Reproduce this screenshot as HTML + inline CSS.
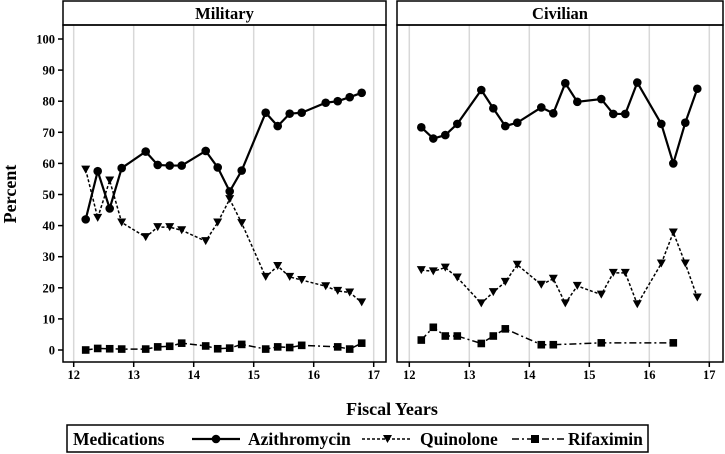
<!DOCTYPE html>
<html><head><meta charset="utf-8"><style>
body{margin:0;background:#fff}
svg{display:block;font-family:"Liberation Serif",serif;font-weight:bold}
</style></head><body>
<svg id="c" width="725" height="454"></svg>
<script>
const yTicks=[0,10,20,30,40,50,60,70,80,90,100];
const xTicks=[12,13,14,15,16,17];
const milAzX=[12.2,12.4,12.6,12.8,13.2,13.4,13.6,13.8,14.2,14.4,14.6,14.8,15.2,15.4,15.6,15.8,16.2,16.4,16.6,16.8];
const milAz=[42,57.5,45.5,58.5,63.8,59.5,59.3,59.3,64,58.7,51,57.7,76.3,72,76,76.3,79.5,80,81.3,82.7];
const milQu=[58,42.5,54.5,41,36.3,39.5,39.5,38.5,35,41,48.5,40.8,23.5,27,23.5,22.5,20.5,19,18.5,15.3];
const milRiX=[12.2,12.4,12.6,12.8,13.2,13.4,13.6,13.8,14.2,14.4,14.6,14.8,15.2,15.4,15.6,15.8,16.4,16.6,16.8];
const milRi=[0,0.5,0.4,0.3,0.3,1,1.2,2.2,1.3,0.4,0.6,1.8,0.3,1,0.8,1.5,1,0.3,2.2];
const civAz=[71.6,68,69.1,72.7,83.6,77.7,72,73.1,78,76.1,85.8,79.8,80.7,75.9,75.9,86,72.7,60,73.1,84];
const civQu=[25.7,25.3,26.5,23.3,15,18.6,21.9,27.4,21,22.9,15,20.6,17.8,24.8,24.8,14.7,27.8,37.8,27.8,16.9];
const civRiX=[12.2,12.4,12.6,12.8,13.2,13.4,13.6,14.2,14.4,15.2,16.4];
const civRi=[3.2,7.3,4.5,4.5,2.1,4.5,6.8,1.7,1.7,2.3,2.3];

const NS="http://www.w3.org/2000/svg",svg=document.getElementById('c');
function el(t,a,p){const e=document.createElementNS(NS,t);for(const k in a)e.setAttribute(k,a[k]);(p||svg).appendChild(e);return e;}
const y=v=>350-v*3.11;
const panels=[
 {name:'military',title:'Military',L:63,R:386,x0:73.7,az:milAz,azX:milAzX,qu:milQu,ri:milRi,riX:milRiX},
 {name:'civilian',title:'Civilian',L:397,R:723,x0:409.3,az:civAz,azX:milAzX,qu:civQu,ri:civRi,riX:civRiX}];
panels.forEach(p=>{
 const g=el('g',{});
 
 
 const x=v=>p.x0+(v-12)*60;
 xTicks.forEach(t=>{
  const gl=el('line',{x1:x(t),x2:x(t),y1:25,y2:362,stroke:'#d8d8d8','stroke-width':1.5},g);
  
  
  el('line',{x1:x(t),x2:x(t),y1:362,y2:367,stroke:'#000','stroke-width':1.5},g);
  const tl=el('text',{x:x(t),y:379,'text-anchor':'middle','font-size':12.5},g);tl.textContent=t;
  
  
 });
 const hd=el('rect',{x:p.L,y:1,width:p.R-p.L,height:24,fill:'#fff',stroke:'#000','stroke-width':1.5},g);
 
 
 const ht=el('text',{x:(p.L+p.R)/2,y:19,'text-anchor':'middle','font-size':16.5},g);ht.textContent=p.title;
 
 
 el('rect',{x:p.L,y:25,width:p.R-p.L,height:337,fill:'none',stroke:'#000','stroke-width':1.5},g);
 const ser=(xs,vs,dash,mk,nm)=>{
  const pl=el('polyline',{points:xs.map((t,i)=>x(t)+','+y(vs[i])).join(' '),fill:'none',stroke:'#000','stroke-width':dash?1.5:2.2,'stroke-dasharray':dash||'none'},g);
  
  
  xs.forEach((t,i)=>{const cx=x(t),cy=y(vs[i]);let m;
   if(mk==='c')m=el('circle',{cx:cx,cy:cy,r:4.3,fill:'#000'},g);
   else if(mk==='t')m=el('polygon',{points:`${cx-4.5},${cy-4} ${cx+4.5},${cy-4} ${cx},${cy+4}`,fill:'#000'},g);
   else m=el('rect',{x:cx-3.8,y:cy-3.8,width:7.6,height:7.6,fill:'#000'},g);
   
   });
 };
 ser(p.riX,p.ri,'7,3,2,3','s','rifaximin');
 ser(p.azX,p.qu,'3,2','t','quinolone');
 ser(p.azX,p.az,null,'c','azithromycin');
});
yTicks.forEach(t=>{
 el('line',{x1:58,x2:63,y1:y(t),y2:y(t),stroke:'#000','stroke-width':1.5});
 const tl=el('text',{x:55,y:y(t)+4.5,'text-anchor':'end','font-size':12.5});tl.textContent=t;
 
 
});
const yt=el('text',{x:0,y:0,'text-anchor':'middle','font-size':18,transform:'translate(16,194) rotate(-90)'});yt.textContent='Percent';


const xt=el('text',{x:392,y:415,'text-anchor':'middle','font-size':18});xt.textContent='Fiscal Years';


const lg=el('g',{});


el('rect',{x:67,y:425,width:581,height:27,fill:'#fff',stroke:'#000','stroke-width':1.5},lg);
const lt=(tx,xx)=>{const t=el('text',{x:xx,y:445,'font-size':17.5},lg);t.textContent=tx;
 
 };
lt('Medications',73);
el('line',{x1:192,x2:240,y1:439,y2:439,stroke:'#000','stroke-width':2.2},lg);
el('circle',{cx:216,cy:439,r:4.3},lg);
lt('Azithromycin',248);
el('line',{x1:362,x2:410,y1:439,y2:439,stroke:'#000','stroke-width':1.5,'stroke-dasharray':'3,2'},lg);
el('polygon',{points:'383,435 392,435 387.5,443'},lg);
lt('Quinolone',420);
el('line',{x1:512,x2:564,y1:439,y2:439,stroke:'#000','stroke-width':1.5,'stroke-dasharray':'7,3,2,3'},lg);
el('rect',{x:531,y:435,width:8,height:8},lg);
lt('Rifaximin',568);
</script>
</body></html>
